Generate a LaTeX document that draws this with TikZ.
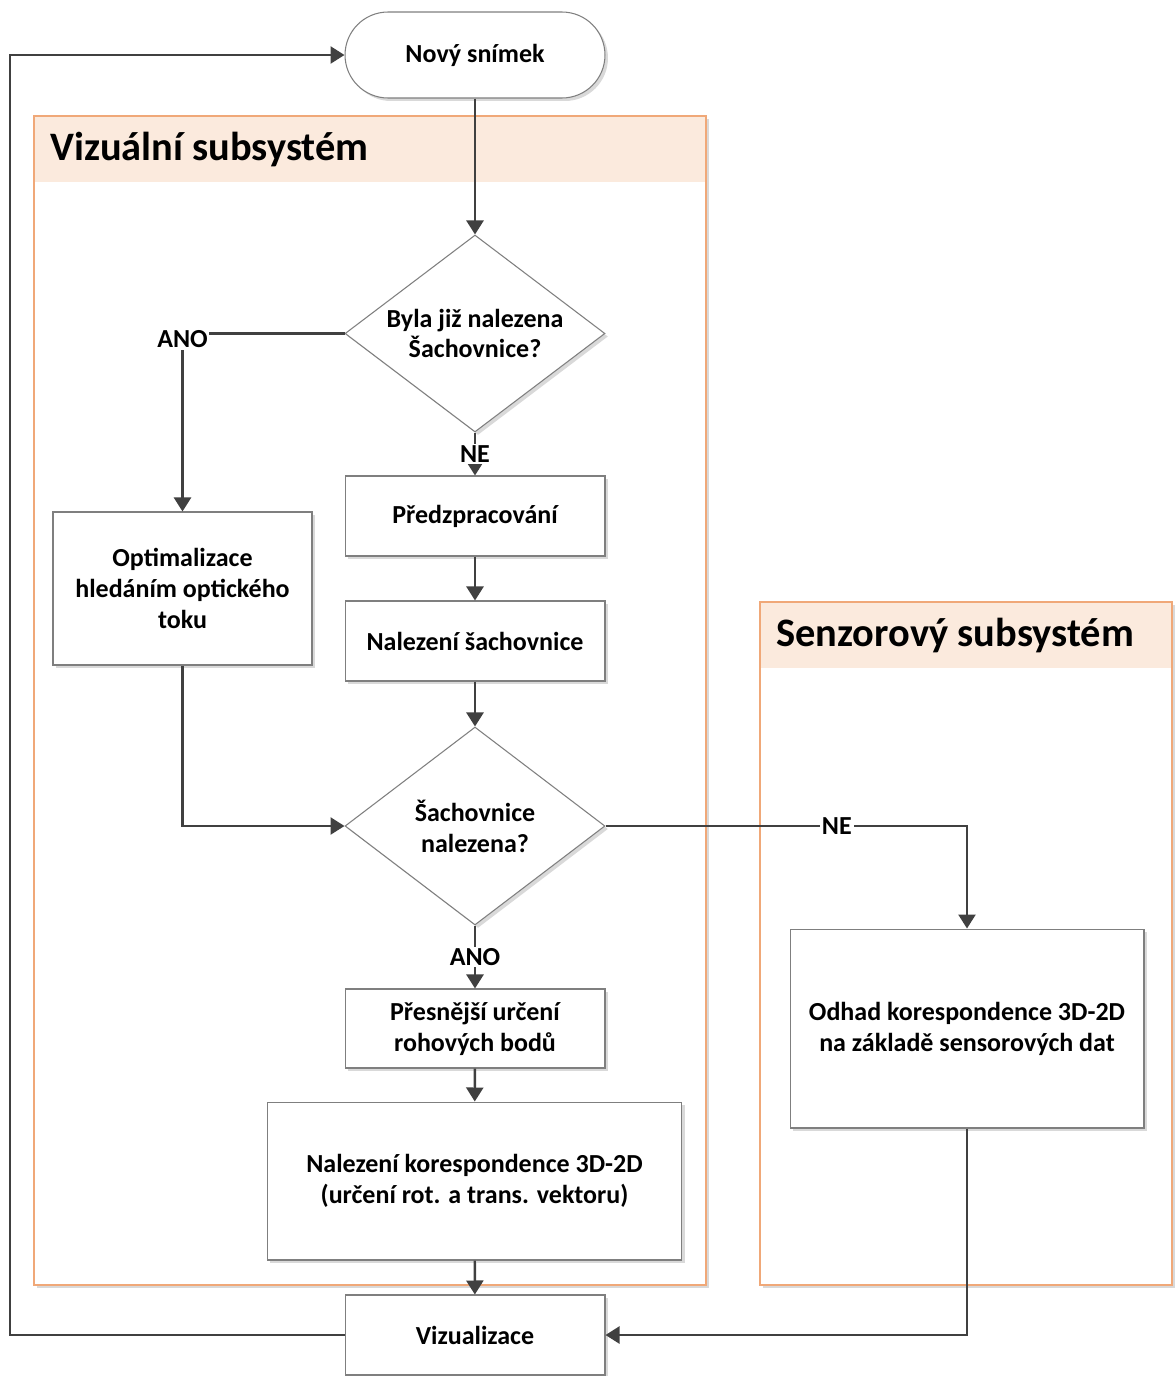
\documentclass[tikz,border=0pt]{standalone}
\usepackage{fontspec}
\setmainfont{Carlito}
\usetikzlibrary{shapes.geometric,shadows,arrows.meta}

\definecolor{carovka}{HTML}{404040}
\definecolor{ramecek}{HTML}{7F7F7F}
\definecolor{drahaokraj}{HTML}{F0A878}
\definecolor{drahavypln}{HTML}{FBEADD}

\tikzset{
  stin/.style={drop shadow={shadow xshift=0.06cm, shadow yshift=-0.06cm, fill=black!15, opacity=1}},
  krok/.style={draw=ramecek, line width=0.6pt, fill=white, stin, align=center, inner sep=0pt,
    font=\bfseries\fontsize{14.8}{17.6}\selectfont},
  dotaz/.style={krok, diamond, aspect=1.32, minimum width=5.2cm, minimum height=3.94cm},
  start/.style={krok, rounded corners=0.86cm, minimum width=5.2cm, minimum height=1.72cm},
  sipka/.style={draw=carovka, line width=1.4pt, -{Triangle[length=0.28cm,width=0.34cm]}},
  popis/.style={fill=white, inner sep=1pt, font=\bfseries\fontsize{14.8}{17}\selectfont},
  nadpis/.style={anchor=west, inner sep=0pt, font=\bfseries\fontsize{23}{26}\selectfont}
}

\begin{document}
\begin{tikzpicture}[x=0.02cm, y=-0.02cm]
    \useasboundingbox (0,0) rectangle (1174,1376);

    % drahy (swimlanes)
    \draw[draw=drahaokraj, line width=0.6pt, fill=white, stin] (34,116) rectangle (706,1285);
    \fill[drahavypln] (34,116) rectangle (706,182);
    \draw[draw=drahaokraj, line width=0.6pt] (34,116) rectangle (706,1285);
    \node[nadpis] (hlavavizual) at (50,149) {Vizuální subsystém};

    \draw[draw=drahaokraj, line width=0.6pt, fill=white, stin] (760,602) rectangle (1172,1285);
    \fill[drahavypln] (760,602) rectangle (1172,668);
    \draw[draw=drahaokraj, line width=0.6pt] (760,602) rectangle (1172,1285);
    \node[nadpis] (hlavasenzor) at (776,635) {Senzorový subsystém};

    % uzly
    \node[start] (snimek) at (475,55) {Nový snímek};
    \node[dotaz] (nalezena) at (475,333.5) {Byla již nalezena\\Šachovnice?};
    \node[krok, minimum width=5.2cm, minimum height=1.6cm] (predzprac) at (475,516) {Předzpracování};
    \node[krok, minimum width=5.2cm, minimum height=1.6cm] (hledani) at (475,641) {Nalezení šachovnice};
    \node[krok, minimum width=5.18cm, minimum height=3.06cm] (optim) at (182.5,588.5) {Optimalizace\\hledáním optického\\toku};
    \node[dotaz, minimum height=3.96cm] (uspech) at (475,826) {Šachovnice\\nalezena?};
    \node[krok, minimum width=5.2cm, minimum height=1.58cm] (rohy) at (475,1028.5) {Přesnější určení\\rohových bodů};
    \node[krok, minimum width=8.3cm, minimum height=3.16cm] (koresp) at (474.5,1181) {Nalezení korespondence 3D-2D\\(určení rot. a trans. vektoru)};
    \node[krok, minimum width=5.2cm, minimum height=1.6cm] (vizual) at (475,1335) {Vizualizace};
    \node[krok, minimum width=7.08cm, minimum height=3.98cm] (odhad) at (967,1028.5) {Odhad korespondence 3D-2D\\na základě sensorových dat};
    \coordinate (obrat) at (10,1335);

    % spojnice
    \draw[sipka] (snimek) -- (nalezena);
    \draw[sipka] (nalezena.west) -| node[popis, pos=0.5, yshift=-0.12cm] {ANO} (optim.north);
    \draw[sipka] (nalezena.south) -- node[popis] {NE} (predzprac.north);
    \draw[sipka] (predzprac) -- (hledani);
    \draw[sipka] (hledani) -- (uspech);
    \draw[sipka] (optim.south) |- (uspech.west);
    \draw[sipka] (uspech.east) -| node[popis, pos=0.32] {NE} (odhad.north);
    \draw[sipka] (uspech.south) -- node[popis] {ANO} (rohy.north);
    \draw[sipka] (rohy) -- (koresp);
    \draw[sipka] (koresp) -- (vizual);
    \draw[sipka] (odhad.south) |- (vizual.east);
    \draw[sipka] (vizual.west) -- (obrat) |- (snimek.west);
\end{tikzpicture}
\end{document}
